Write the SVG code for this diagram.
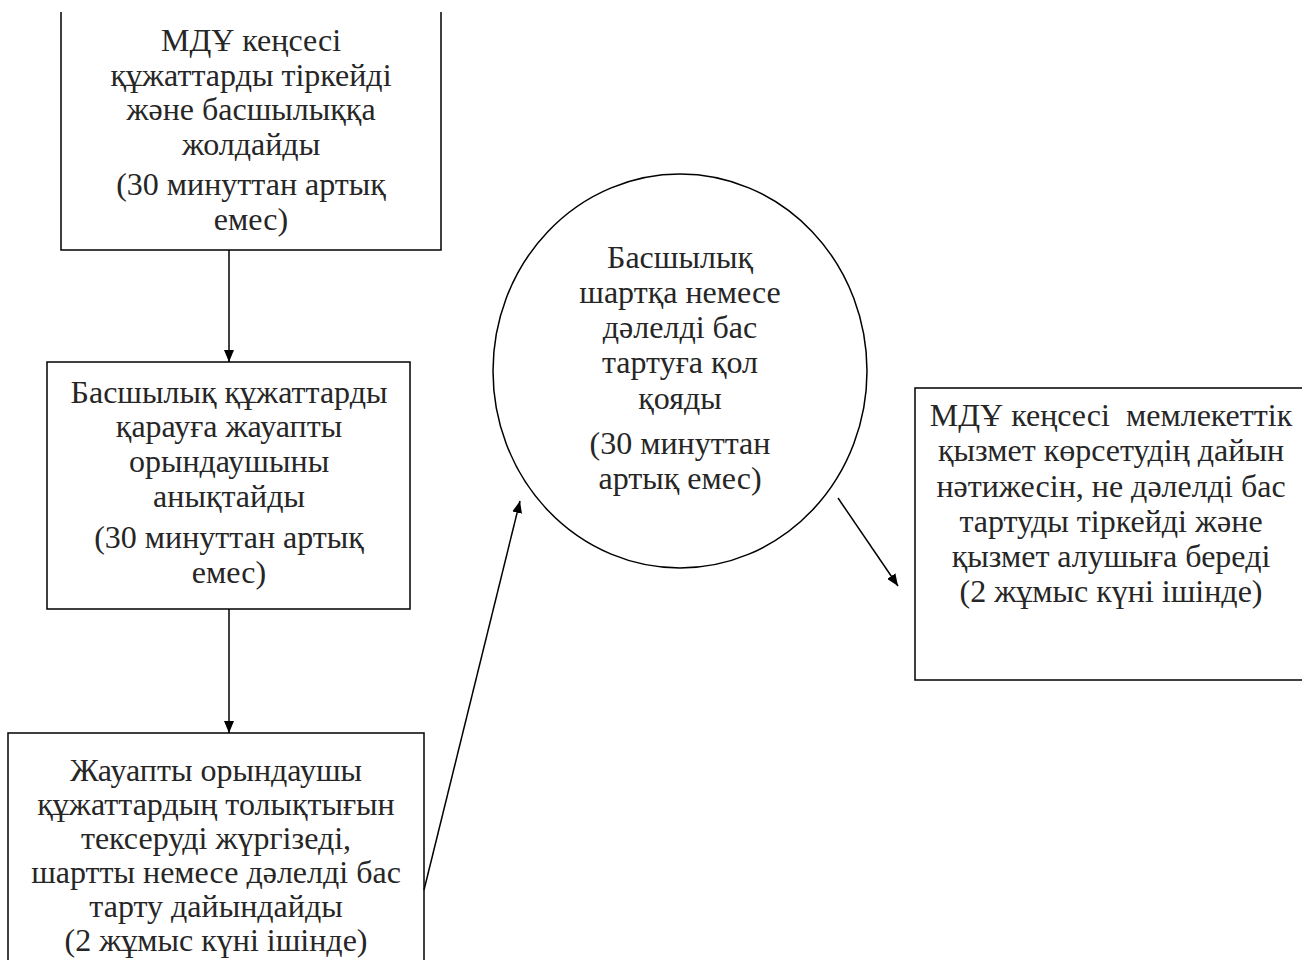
<svg xmlns="http://www.w3.org/2000/svg" width="1302" height="960" viewBox="0 0 1302 960">
<style>
.box{fill:#fff;stroke:#000;stroke-width:1.5}
.t{font-family:"Liberation Serif","Times New Roman",serif;font-size:32px;fill:#262626;text-anchor:middle;white-space:pre}
.c{stroke:#000;stroke-width:1.5;fill:none;marker-end:url(#ah)}
</style>
<defs>
<marker id="ah" viewBox="0 0 12 10" refX="12" refY="5" markerWidth="12" markerHeight="10" markerUnits="userSpaceOnUse" orient="auto">
<path d="M0,0 L12,5 L0,10 z" fill="#000"/>
</marker>
</defs>
<rect width="1302" height="960" fill="#fff"/>
<g id="n1">
<path class="box" d="M61,12 V250 H441 V12"/>
<text class="t" x="251" y="51">МДҰ кеңсесі</text>
<text class="t" x="251" y="86">құжаттарды тіркейді</text>
<text class="t" x="251" y="120">және басшылыққа</text>
<text class="t" x="251" y="155">жолдайды</text>
<text class="t" x="251" y="195">(30 минуттан артық</text>
<text class="t" x="251" y="230">емес)</text>
</g>
<g id="n2">
<rect class="box" x="47" y="362" width="363" height="247"/>
<text class="t" x="229" y="403">Басшылық құжаттарды</text>
<text class="t" x="229" y="437">қарауға жауапты</text>
<text class="t" x="229" y="472">орындаушыны</text>
<text class="t" x="229" y="507">анықтайды</text>
<text class="t" x="229" y="548">(30 минуттан артық</text>
<text class="t" x="229" y="583">емес)</text>
</g>
<g id="n3">
<rect class="box" x="8" y="733" width="416" height="260"/>
<text class="t" x="216" y="781">Жауапты орындаушы</text>
<text class="t" x="216" y="815">құжаттардың толықтығын</text>
<text class="t" x="216" y="849">тексеруді жүргізеді,</text>
<text class="t" x="216" y="883">шартты немесе дәлелді бас</text>
<text class="t" x="216" y="917">тарту дайындайды</text>
<text class="t" x="216" y="951">(2 жұмыс күні ішінде)</text>
</g>
<g id="n4">
<ellipse class="box" cx="680" cy="371" rx="187" ry="197"/>
<text class="t" x="680" y="268">Басшылық</text>
<text class="t" x="680" y="303">шартқа немесе</text>
<text class="t" x="680" y="338">дәлелді бас</text>
<text class="t" x="680" y="373">тартуға қол</text>
<text class="t" x="680" y="409">қояды</text>
<text class="t" x="680" y="454">(30 минуттан</text>
<text class="t" x="680" y="489">артық емес)</text>
</g>
<g id="n5">
<rect class="box" x="915" y="388" width="400" height="292"/>
<text class="t" x="1111" y="426">МДҰ кеңсесі  мемлекеттік</text>
<text class="t" x="1111" y="461">қызмет көрсетудің дайын</text>
<text class="t" x="1111" y="497">нәтижесін, не дәлелді бас</text>
<text class="t" x="1111" y="532">тартуды тіркейді және</text>
<text class="t" x="1111" y="567">қызмет алушыға береді</text>
<text class="t" x="1111" y="602">(2 жұмыс күні ішінде)</text>
</g>
<g id="connectors">
<line class="c" x1="229" y1="250" x2="229" y2="362"/>
<line class="c" x1="229" y1="609" x2="229" y2="733"/>
<line class="c" x1="424" y1="890" x2="520" y2="501"/>
<line class="c" x1="838" y1="498" x2="898" y2="586"/>
</g>
</svg>
